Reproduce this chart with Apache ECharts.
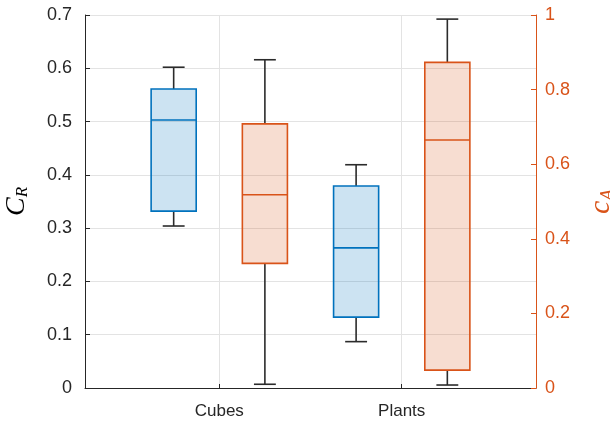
<!DOCTYPE html>
<html>
<head>
<meta charset="utf-8">
<script src="https://cdn.jsdelivr.net/npm/echarts@6/dist/echarts.min.js"></script>
<style>
html,body{margin:0;padding:0;background:#fff;}
#main{width:610px;height:422px;}
</style>
</head>
<body>
<div id="main"></div>
<script>
// ---- Data ----
var categories = ['Cubes', 'Plants'];
var categoryPositions = [1, 2];
// [whiskerLow, Q1, median, Q3, whiskerHigh]
var crCubes  = [0.304, 0.332, 0.503, 0.561, 0.602];
var crPlants = [0.087, 0.133, 0.263, 0.379, 0.419];
var caCubes  = [0.010, 0.334, 0.518, 0.708, 0.880];
var caPlants = [0.008, 0.048, 0.665, 0.873, 0.989];
var leftTicks = [0, 0.1, 0.2, 0.3, 0.4, 0.5, 0.6, 0.7];
var rightTicks = [0, 0.2, 0.4, 0.6, 0.8, 1];

// ---- Style / layout ----
var BLUE = '#0072BD', BLUE_FILL = 'rgba(0,114,189,0.2)';
var ORANGE = '#D95319', ORANGE_FILL = 'rgba(217,83,25,0.2)';
var WHISKER = '#2b2b2b';
var OFFSET = 0.25, BOX_W = 0.247, CAP_W = 0.12;

function buildData(stats, offset) {
  return stats.map(function (s, i) {
    return [categoryPositions[i] + offset].concat(s);
  });
}

function makeRender(edge, fill) {
  return function (params, api) {
    var x = api.value(0);
    var lo = api.coord([x, api.value(1)]);
    var q1 = api.coord([x, api.value(2)]);
    var md = api.coord([x, api.value(3)]);
    var q3 = api.coord([x, api.value(4)]);
    var hi = api.coord([x, api.value(5)]);
    var bw = api.size([BOX_W, 0])[0];
    var cw = api.size([CAP_W, 0])[0];
    var cx = lo[0];
    var wl = {stroke: WHISKER, lineWidth: 1.6};
    return {
      type: 'group',
      children: [
        {type: 'line', shape: {x1: cx, y1: hi[1], x2: cx, y2: q3[1]}, style: wl},
        {type: 'line', shape: {x1: cx, y1: q1[1], x2: cx, y2: lo[1]}, style: wl},
        {type: 'line', shape: {x1: cx - cw / 2, y1: hi[1], x2: cx + cw / 2, y2: hi[1]}, style: wl},
        {type: 'line', shape: {x1: cx - cw / 2, y1: lo[1], x2: cx + cw / 2, y2: lo[1]}, style: wl},
        {type: 'rect', shape: {x: cx - bw / 2, y: q3[1], width: bw, height: q1[1] - q3[1]},
          style: {fill: fill, stroke: edge, lineWidth: 1.6}},
        {type: 'line', shape: {x1: cx - bw / 2, y1: md[1], x2: cx + bw / 2, y2: md[1]},
          style: {stroke: edge, lineWidth: 1.6}}
      ]
    };
  };
}

var chart = echarts.init(document.getElementById('main'));
var labelFont = 'Liberation Sans, Arial, sans-serif';
chart.setOption({
  animation: false,
  backgroundColor: '#fff',
  grid: {left: 85, right: 74, top: 15, bottom: 34, containLabel: false, outerBoundsMode: 'none'},
  xAxis: {
    type: 'value', min: 0.264, max: 2.736,
    axisLine: {show: true, lineStyle: {color: '#262626', width: 1}},
    axisTick: {show: true, inside: true, length: 4, customValues: categoryPositions, lineStyle: {color: '#262626'}},
    axisLabel: {
      customValues: categoryPositions,
      formatter: function (v) { var i = categoryPositions.indexOf(v); return i >= 0 ? categories[i] : ''; },
      color: '#262626', fontSize: 17, fontFamily: labelFont, margin: 15
    },
    splitLine: {show: true, lineStyle: {color: '#e3e3e3', width: 1}}
  },
  yAxis: [
    {
      type: 'value', min: 0, max: 0.7, interval: 0.1, position: 'left',
      name: '{c|C}{s|R}', nameLocation: 'middle', nameRotate: 90, nameGap: 54,
      nameTextStyle: {rich: {
        c: {fontSize: 28, fontStyle: 'italic', fontFamily: 'Liberation Serif, serif', color: '#000'},
        s: {fontSize: 17, fontStyle: 'italic', fontFamily: 'Liberation Serif, serif', color: '#000', verticalAlign: 'bottom', padding: [12, 0, 0, 0]}
      }},
      axisLine: {show: true, lineStyle: {color: '#262626', width: 1}},
      axisTick: {show: true, inside: true, length: 5, lineStyle: {color: '#262626'}},
      axisLabel: {color: '#262626', fontSize: 18, fontFamily: labelFont, margin: 13,
        formatter: function (v) { return String(Math.round(v * 10) / 10); }},
      splitLine: {show: true, lineStyle: {color: '#e3e3e3', width: 1}}
    },
    {
      type: 'value', min: 0, max: 1, interval: 0.2, position: 'right',
      name: '{c|c}{s|A}', nameLocation: 'middle', nameRotate: 90, nameGap: 50,
      nameTextStyle: {rich: {
        c: {fontSize: 30, fontStyle: 'italic', fontFamily: 'Liberation Serif, serif', color: ORANGE},
        s: {fontSize: 19, fontStyle: 'italic', fontFamily: 'Liberation Serif, serif', color: ORANGE, verticalAlign: 'bottom', padding: [12, 0, 0, 0]}
      }},
      axisLine: {show: true, lineStyle: {color: ORANGE, width: 1}},
      axisTick: {show: true, inside: true, length: 5, lineStyle: {color: ORANGE}},
      axisLabel: {color: ORANGE, fontSize: 18, fontFamily: labelFont, margin: 9,
        formatter: function (v) { return String(Math.round(v * 10) / 10); }},
      splitLine: {show: false}
    }
  ],
  series: [
    {
      type: 'custom', name: 'CR', yAxisIndex: 0,
      renderItem: makeRender(BLUE, BLUE_FILL),
      encode: {x: 0, y: [1, 2, 3, 4, 5]},
      data: buildData([crCubes, crPlants], -OFFSET)
    },
    {
      type: 'custom', name: 'cA', yAxisIndex: 1,
      renderItem: makeRender(ORANGE, ORANGE_FILL),
      encode: {x: 0, y: [1, 2, 3, 4, 5]},
      data: buildData([caCubes, caPlants], OFFSET)
    }
  ]
});
</script>
</body>
</html>
